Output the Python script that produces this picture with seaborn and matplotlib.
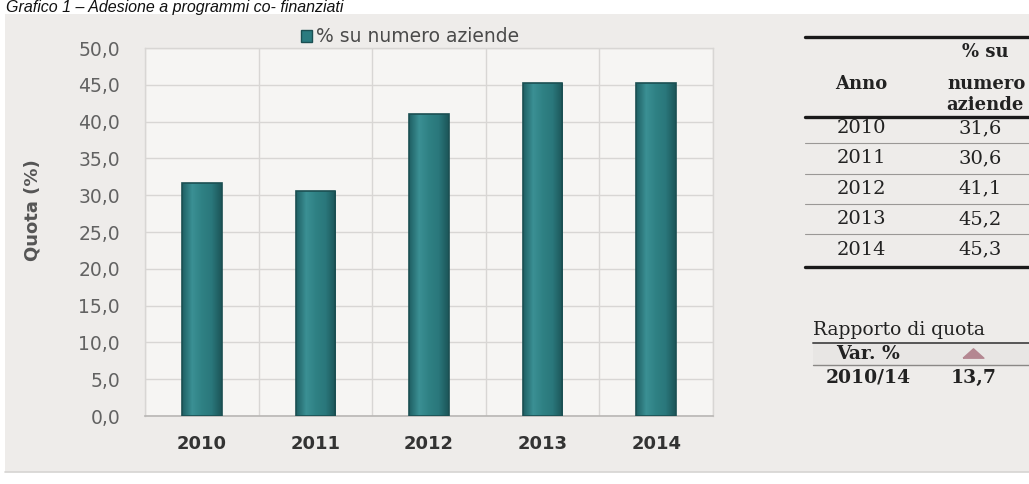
import matplotlib
matplotlib.use("Agg")
import matplotlib.pyplot as plt
from matplotlib.patches import Rectangle, Patch
from matplotlib.lines import Line2D
from matplotlib.colors import LinearSegmentedColormap
import numpy as np
import seaborn as sns
import pandas as pd

# Data
years = ["2010", "2011", "2012", "2013", "2014"]
quota = [31.6, 30.6, 41.1, 45.2, 45.3]
series_name = "% su numero aziende"
y_ticks = [0, 5, 10, 15, 20, 25, 30, 35, 40, 45, 50]
var_period = "2010/14"
var_value = 13.7

W, H = 1029, 484
DPI = 100

sns.set_theme(style="white")
plt.rcParams["font.family"] = ["DejaVu Sans"]

fig = plt.figure(figsize=(W / DPI, H / DPI), dpi=DPI, facecolor="white")


def fx(px):
    return px / W


def fy(py):
    return 1 - py / H


# Grey panel behind chart and table
fig.patches.append(Rectangle((fx(5), fy(472)), fx(1029) - fx(5), fy(14) - fy(472),
                             transform=fig.transFigure, facecolor="#eeecea",
                             edgecolor="none", zorder=-2))
fig.add_artist(Line2D([fx(5), 1], [fy(472), fy(472)], transform=fig.transFigure,
                      color="#d6d4d2", lw=1.2, zorder=-1))

# Title
fig.text(fx(6), fy(12), "Grafico 1 – Adesione a programmi co- finanziati",
         family="Liberation Sans", style="italic", fontsize=11.5,
         color="#111111", va="baseline", ha="left")

# Bar chart
left, right, top, bottom = 145, 713, 48, 416
ax = fig.add_axes([fx(left), fy(bottom), fx(right) - fx(left), fy(top) - fy(bottom)])
ax.set_zorder(2)
ax.set_facecolor("#f6f5f3")

bar_color = "#2b7b7f"
edge_color = "#1b4f52"
df = pd.DataFrame({"Anno": years, "Quota": quota})
sns.barplot(data=df, x="Anno", y="Quota", ax=ax, color=bar_color, width=0.35,
            edgecolor=edge_color, linewidth=1.2, saturation=1, zorder=3)

# Soft cylindrical shading across each bar
shade = LinearSegmentedColormap.from_list(
    "teal_shade", ["#1f6064", "#3b9094", "#2f8184", "#2a777b", "#1c5558"])
grad = np.linspace(0, 1, 64)[None, :]
for p in list(ax.patches):
    x0, y0 = p.get_x(), p.get_y()
    w, h = p.get_width(), p.get_height()
    im = ax.imshow(grad, cmap=shade, extent=[x0, x0 + w, y0, y0 + h],
                   aspect="auto", origin="lower", zorder=3.5, interpolation="bilinear")
    im.set_clip_path(p)
    p.set_facecolor("none")
    p.set_zorder(4)

ax.set_xlim(-0.5, len(years) - 0.5)
ax.set_ylim(0, 50)
ax.set_aspect("auto")
ax.set_yticks(y_ticks)
ax.set_yticklabels([f"{v:.1f}".replace(".", ",") for v in y_ticks],
                   fontsize=13.5, color="#626262")
ax.set_xticks(range(len(years)))
ax.set_xticklabels(years, fontsize=13, fontweight="bold", color="#333333")
ax.set_xticks([i - 0.5 for i in range(len(years) + 1)], minor=True)
ax.tick_params(axis="both", which="both", length=0)
ax.tick_params(axis="x", pad=14)
ax.tick_params(axis="y", pad=18)
ax.grid(axis="y", which="major", color="#d8d6d4", lw=1, zorder=0)
ax.grid(axis="x", which="minor", color="#d8d6d4", lw=1, zorder=0)
ax.set_axisbelow(True)
ax.set_xlabel("")
ax.set_ylabel("")
for side in ["top", "right", "left"]:
    ax.spines[side].set_color("#d8d6d4")
    ax.spines[side].set_linewidth(1)
ax.spines["bottom"].set_color("#b8b6b4")
ax.spines["bottom"].set_linewidth(1.2)

fig.text(fx(33), fy(210), "Quota (%)", rotation=90, fontsize=13,
         fontweight="bold", color="#555555", ha="center", va="center")

ax.legend(handles=[Patch(facecolor=bar_color, edgecolor=edge_color)],
          labels=[series_name], loc="center", frameon=False,
          bbox_to_anchor=(0.467, 1 + 11 / (bottom - top)),
          handlelength=0.55, handleheight=0.55, handletextpad=0.25,
          fontsize=13.5, labelcolor="#4a4a4a", borderaxespad=0)

# Table on the right
serif = "DejaVu Serif"
tc = "#222222"


def hline(y, x0=805, x1=1029, lw=2.4, color="#1a1a1a"):
    fig.add_artist(Line2D([fx(x0), fx(x1)], [fy(y), fy(y)],
                          transform=fig.transFigure, color=color, lw=lw))


col1, col2 = 861, 980
hline(37)
fig.text(fx(985), fy(52), "% su", family=serif, fontsize=13, fontweight="bold",
         color=tc, ha="center", va="center")
fig.text(fx(col1), fy(84), "Anno", family=serif, fontsize=13, fontweight="bold",
         color=tc, ha="center", va="center")
fig.text(fx(987), fy(84), "numero", family=serif, fontsize=13, fontweight="bold",
         color=tc, ha="center", va="center")
fig.text(fx(985), fy(105), "aziende", family=serif, fontsize=13, fontweight="bold",
         color=tc, ha="center", va="center")
hline(117)

row_y0, row_step = 128, 30.4
for i, (yr, val) in enumerate(zip(years, quota)):
    yc = row_y0 + i * row_step
    fig.text(fx(col1), fy(yc), yr, family=serif, fontsize=14, color=tc,
             ha="center", va="center")
    fig.text(fx(col2), fy(yc), f"{val:.1f}".replace(".", ","), family=serif,
             fontsize=14, color=tc, ha="center", va="center")
    if i < len(years) - 1:
        hline(yc + row_step / 2, lw=0.8, color="#9a9896")
hline(267)

# Change summary
fig.text(fx(813), fy(330), "Rapporto di quota", family=serif, fontsize=13.5,
         color=tc, ha="left", va="center")
hline(343, x0=813, lw=1.4, color="#555555")
fig.patches.append(Rectangle((fx(813), fy(365)), 1 - fx(813), fy(343) - fy(365),
                             transform=fig.transFigure, facecolor="#e8e6e4",
                             edgecolor="none", zorder=-1))
fig.text(fx(868), fy(354), "Var. %", family=serif, fontsize=13.5,
         fontweight="bold", color=tc, ha="center", va="center")
flat_triangle = [(-1.0, -0.45), (1.0, -0.45), (0.0, 0.45), (-1.0, -0.45)]
fig.add_artist(Line2D([fx(973)], [fy(353)], transform=fig.transFigure,
                      marker=flat_triangle, markersize=15, color="#b48791", lw=0))
hline(365, x0=813, lw=1.0, color="#8a8886")
fig.text(fx(868), fy(378), var_period, family=serif, fontsize=13.5,
         fontweight="bold", color=tc, ha="center", va="center")
fig.text(fx(974), fy(378), f"{var_value:.1f}".replace(".", ","), family=serif,
         fontsize=13.5, fontweight="bold", color=tc, ha="center", va="center")

fig.savefig("out.png", dpi=DPI, facecolor="white")
